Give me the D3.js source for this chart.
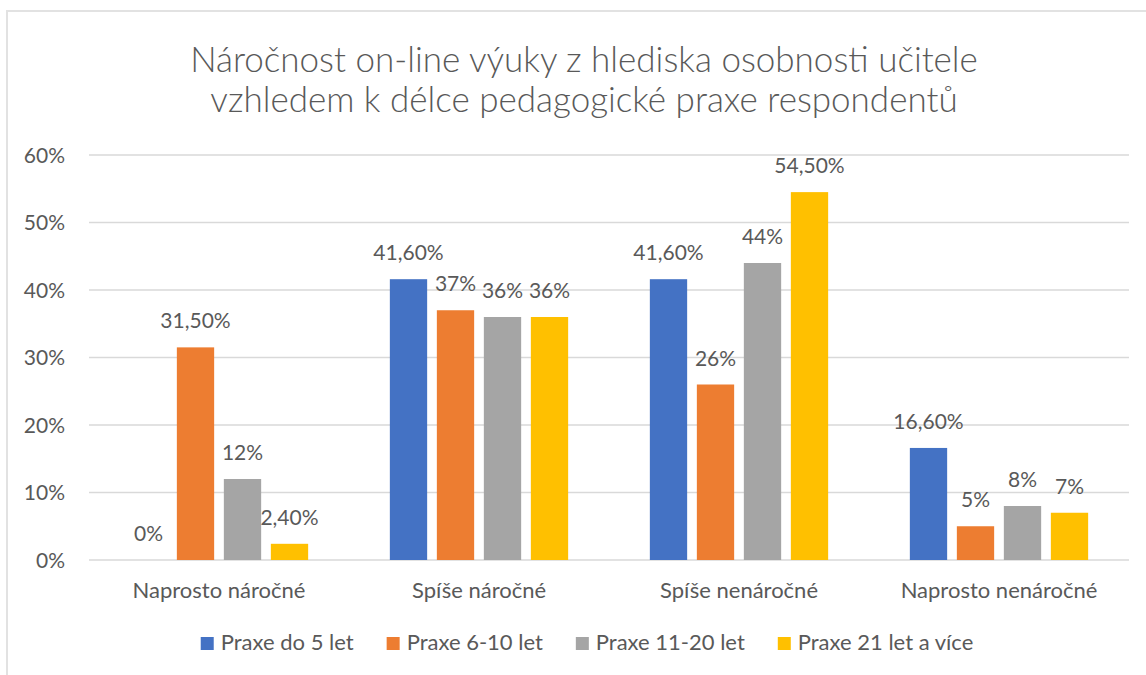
<!DOCTYPE html>
<html>
<head>
<meta charset="utf-8">
<script src="https://cdn.jsdelivr.net/npm/d3@7"></script>
<style>
  html, body { margin: 0; padding: 0; background: #fff; }
  svg { display: block; }
  text { font-family: Lato, "Open Sans", sans-serif; fill: #595959; }
</style>
</head>
<body>
<svg id="chart" width="1146" height="675"></svg>
<script>
const titleLines = ["Náročnost on-line výuky z hlediska osobnosti učitele",
                    "vzhledem k délce pedagogické praxe respondentů"];
const categories = ["Naprosto náročné", "Spíše náročné", "Spíše nenáročné", "Naprosto nenáročné"];
const seriesNames = ["Praxe do 5 let", "Praxe 6-10 let", "Praxe 11-20 let", "Praxe 21 let a více"];
const seriesColors = ["#4472C4", "#ED7D31", "#A5A5A5", "#FFC000"];
const praxeDo5 = [0, 41.6, 41.6, 16.6];
const praxe6_10 = [31.5, 37, 26, 5];
const praxe11_20 = [12, 36, 44, 8];
const praxe21plus = [2.4, 36, 54.5, 7];
const seriesValues = [praxeDo5, praxe6_10, praxe11_20, praxe21plus];
const yTicks = [0, 10, 20, 30, 40, 50, 60];

const svg = d3.select("#chart");

// chart border
svg.append("rect").attr("x", 7).attr("y", 11).attr("width", 1150).attr("height", 680)
  .attr("fill", "none").attr("stroke", "#e2e2e2").attr("stroke-width", 2);

const plot = { left: 89, right: 1129, top: 155, bottom: 560 };

const x0 = d3.scaleBand().domain(categories).range([plot.left, plot.right]).paddingInner(0).paddingOuter(0);
const bw = x0.bandwidth();
const barW = bw / (4 + 3 * 0.26 + 2.19);
const groupW = barW * 4 + barW * 0.26 * 3;
const x1 = d3.scaleBand().domain(seriesNames).range([0, groupW]).paddingInner(0.26 / 1.26).paddingOuter(0);

const y = d3.scaleLinear().domain([0, 60]).range([plot.bottom, plot.top]);

// gridlines
svg.append("g").selectAll("line").data(yTicks).join("line")
  .attr("x1", plot.left).attr("x2", plot.right)
  .attr("y1", d => y(d)).attr("y2", d => y(d))
  .attr("stroke", "#d9d9d9").attr("stroke-width", 1.5);

// y axis labels
const yAxis = d3.axisLeft(y).tickValues(yTicks).tickFormat(d => d + "%").tickSize(0).tickPadding(0);
const yg = svg.append("g").attr("transform", `translate(65,0)`).call(yAxis);
yg.select(".domain").remove();
yg.selectAll("text").attr("font-size", 21).attr("fill", "#595959")
  .attr("font-family", "Lato, sans-serif").attr("dy", "0.35em");

// x axis labels
const xAxis = d3.axisBottom(x0).tickSize(0).tickPadding(0);
const xg = svg.append("g").attr("transform", `translate(0,598)`).call(xAxis);
xg.select(".domain").remove();
xg.selectAll("text").attr("font-size", 22).attr("fill", "#595959")
  .attr("font-family", "Lato, sans-serif").attr("dy", "0");

const fmt = v => Number.isInteger(v) ? v + "%" : v.toFixed(2).replace(".", ",") + "%";

const rows = [];
categories.forEach((c, ci) => seriesNames.forEach((s, si) =>
  rows.push({ cat: c, ser: s, si, v: seriesValues[si][ci] })));

const groupOffset = (bw - groupW) / 2;

svg.append("g").selectAll("rect").data(rows).join("rect")
  .attr("x", d => x0(d.cat) + groupOffset + x1(d.ser))
  .attr("y", d => y(d.v))
  .attr("width", x1.bandwidth())
  .attr("height", d => y(0) - y(d.v))
  .attr("fill", d => seriesColors[d.si]);

svg.append("g").selectAll("text").data(rows).join("text")
  .attr("x", d => x0(d.cat) + groupOffset + x1(d.ser) + x1.bandwidth() / 2)
  .attr("y", d => y(d.v) - 19)
  .attr("text-anchor", "middle")
  .attr("font-size", 21)
  .text(d => fmt(d.v));

// title
svg.append("g").selectAll("text").data(titleLines).join("text")
  .attr("x", 584).attr("y", (d, i) => 72 + i * 40)
  .attr("text-anchor", "middle")
  .attr("font-size", 35)
  .attr("font-weight", 300)
  .text(d => d);

// legend
const lg = svg.append("g");
const items = lg.selectAll("g").data(seriesNames).join("g");
items.append("rect").attr("width", 13).attr("height", 13).attr("y", -13)
  .attr("fill", (d, i) => seriesColors[i]);
items.append("text").attr("x", 20).attr("y", 0).attr("font-size", 22).text(d => d);
const widths = [];
items.each(function () {
  widths.push(this.querySelector("text").getComputedTextLength() + 20);
});
const gap = 33;
const total = d3.sum(widths) + gap * (widths.length - 1);
let start = 587 - total / 2;
items.attr("transform", (d, i) => {
  const t = `translate(${start},650)`;
  start += widths[i] + gap;
  return t;
});
</script>
</body>
</html>
